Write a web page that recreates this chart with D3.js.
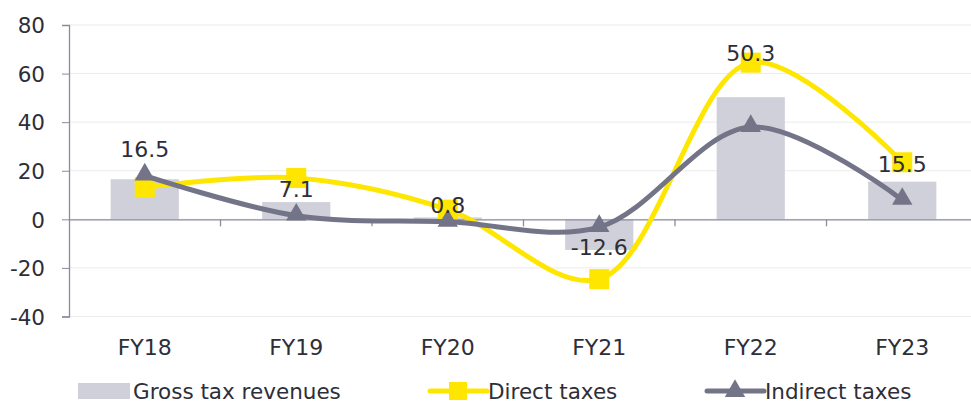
<!DOCTYPE html>
<html><head><meta charset="utf-8">
<script src="https://cdn.jsdelivr.net/npm/d3@7"></script>
<style>body{margin:0;background:#fff}svg{display:block}text{font-family:"DejaVu Sans",sans-serif}</style>
</head><body><svg id="c" width="971" height="403"></svg>
<script>
const categories = ["FY18","FY19","FY20","FY21","FY22","FY23"];
const grossTax = [16.5, 7.1, 0.8, -12.6, 50.3, 15.5];
const directTax = [13.2, 17.0, 4.0, -24.6, 64.5, 23.5];
const indirectTax = [18.0, 1.5, -1.0, -3.2, 38.0, 8.0];
const yTicks = [80, 60, 40, 20, 0, -20, -40];
const legendLabels = ["Gross tax revenues", "Direct taxes", "Indirect taxes"];

const svg = d3.select("#c");
const x = d3.scaleBand().domain(categories).range([69, 978]).paddingInner(0).paddingOuter(0);
const y = d3.scaleLinear().domain([-40, 80]).range([316.5, 25]);
const cx = d => x(d) + x.bandwidth()/2;
const textCol = "#2e2e38", axisCol = "#8a8aa0";
const hy = s => s.replace("\u2212", "-");

// gridlines
svg.append("g").selectAll("line").data(yTicks).join("line")
  .attr("x1", 69).attr("x2", 971).attr("y1", d => y(d)).attr("y2", d => y(d))
  .attr("stroke", "#ebebeb").attr("stroke-width", 1);

// y axis
const yAxis = svg.append("g").attr("transform", "translate(69,0)")
  .call(d3.axisLeft(y).tickValues(yTicks).tickSize(7).tickPadding(17).tickFormat(d => hy(d3.format("d")(d))));
yAxis.select(".domain").attr("stroke", axisCol).attr("stroke-width", 1.3);
yAxis.selectAll(".tick line").attr("stroke", axisCol);
yAxis.selectAll("text").attr("fill", textCol).style("font-size", "21.5px").attr("dy", "0.36em");

// bars
const bw = x.bandwidth() * 0.45;
svg.append("g").selectAll("rect").data(grossTax).join("rect")
  .attr("x", (d, i) => cx(categories[i]) - bw/2)
  .attr("width", bw)
  .attr("y", d => y(Math.max(0, d)))
  .attr("height", d => Math.abs(y(d) - y(0)))
  .attr("fill", "#d0d0da");

// x axis at zero
const xAxis = svg.append("g").attr("transform", `translate(0,${y(0)})`)
  .call(d3.axisBottom(x).tickSize(0).tickFormat(""));
xAxis.select(".domain").attr("stroke", axisCol).attr("stroke-width", 1.3);
xAxis.selectAll(".tick").remove();
const bounds = categories.slice(1).map(c => x(c)).concat([x(categories[5]) + x.bandwidth()]);
svg.append("g").selectAll("line").data(bounds).join("line")
  .attr("x1", d => d).attr("x2", d => d).attr("y1", y(0)).attr("y2", y(0) + 7)
  .attr("stroke", axisCol).attr("stroke-width", 1.3);

// x labels
svg.append("g").selectAll("text").data(categories).join("text")
  .attr("x", d => cx(d)).attr("y", 355).attr("text-anchor", "middle")
  .attr("fill", textCol).style("font-size", "22px").text(d => d);

const line = d3.line().x((d, i) => cx(categories[i])).y(d => y(d)).curve(d3.curveCatmullRom.alpha(0.5));
const yellow = "#ffe600", purple = "#747488";

// direct line
svg.append("path").datum(directTax).attr("d", line).attr("fill", "none")
  .attr("stroke", yellow).attr("stroke-width", 5);
svg.append("g").selectAll("rect").data(directTax).join("rect")
  .attr("x", (d, i) => cx(categories[i]) - 10).attr("y", d => y(d) - 10)
  .attr("width", 20).attr("height", 20).attr("fill", yellow);

// indirect line
svg.append("path").datum(indirectTax).attr("d", line).attr("fill", "none")
  .attr("stroke", purple).attr("stroke-width", 5);
const tri = d3.symbol().type(d3.symbolTriangle).size(180);
svg.append("g").selectAll("path").data(indirectTax).join("path")
  .attr("d", tri).attr("transform", (d, i) => `translate(${cx(categories[i])},${y(d) - 1})`)
  .attr("fill", purple);

// data labels (gross tax)
const labelDy = [-30, -13, -12, -3, -44, -18];
svg.append("g").selectAll("text").data(grossTax).join("text")
  .attr("x", (d, i) => cx(categories[i]))
  .attr("y", (d, i) => y(d) + labelDy[i])
  .attr("dy", "0.36em").attr("text-anchor", "middle")
  .attr("fill", textCol).style("font-size", "22px").text(d => hy(d3.format(".1f")(d)));

// legend
const lg = svg.append("g");
const ly = 391;
lg.append("rect").attr("x", 78).attr("y", ly - 8).attr("width", 52).attr("height", 16).attr("fill", "#d0d0da");
lg.append("line").attr("x1", 430).attr("x2", 487).attr("y1", ly).attr("y2", ly).attr("stroke", yellow).attr("stroke-width", 5).attr("stroke-linecap", "round");
lg.append("rect").attr("x", 449).attr("y", ly - 9).attr("width", 18).attr("height", 18).attr("fill", yellow);
lg.append("line").attr("x1", 707).attr("x2", 764).attr("y1", ly).attr("y2", ly).attr("stroke", purple).attr("stroke-width", 5).attr("stroke-linecap", "round");
lg.append("path").attr("d", tri).attr("transform", `translate(735,${ly})`).attr("fill", purple);
const lx = [133, 488, 765];
lg.selectAll("text").data(legendLabels).join("text")
  .attr("x", (d, i) => lx[i]).attr("y", ly).attr("dy", "0.36em")
  .attr("fill", textCol).style("font-size", "21.5px").text(d => d);
</script></body></html>
